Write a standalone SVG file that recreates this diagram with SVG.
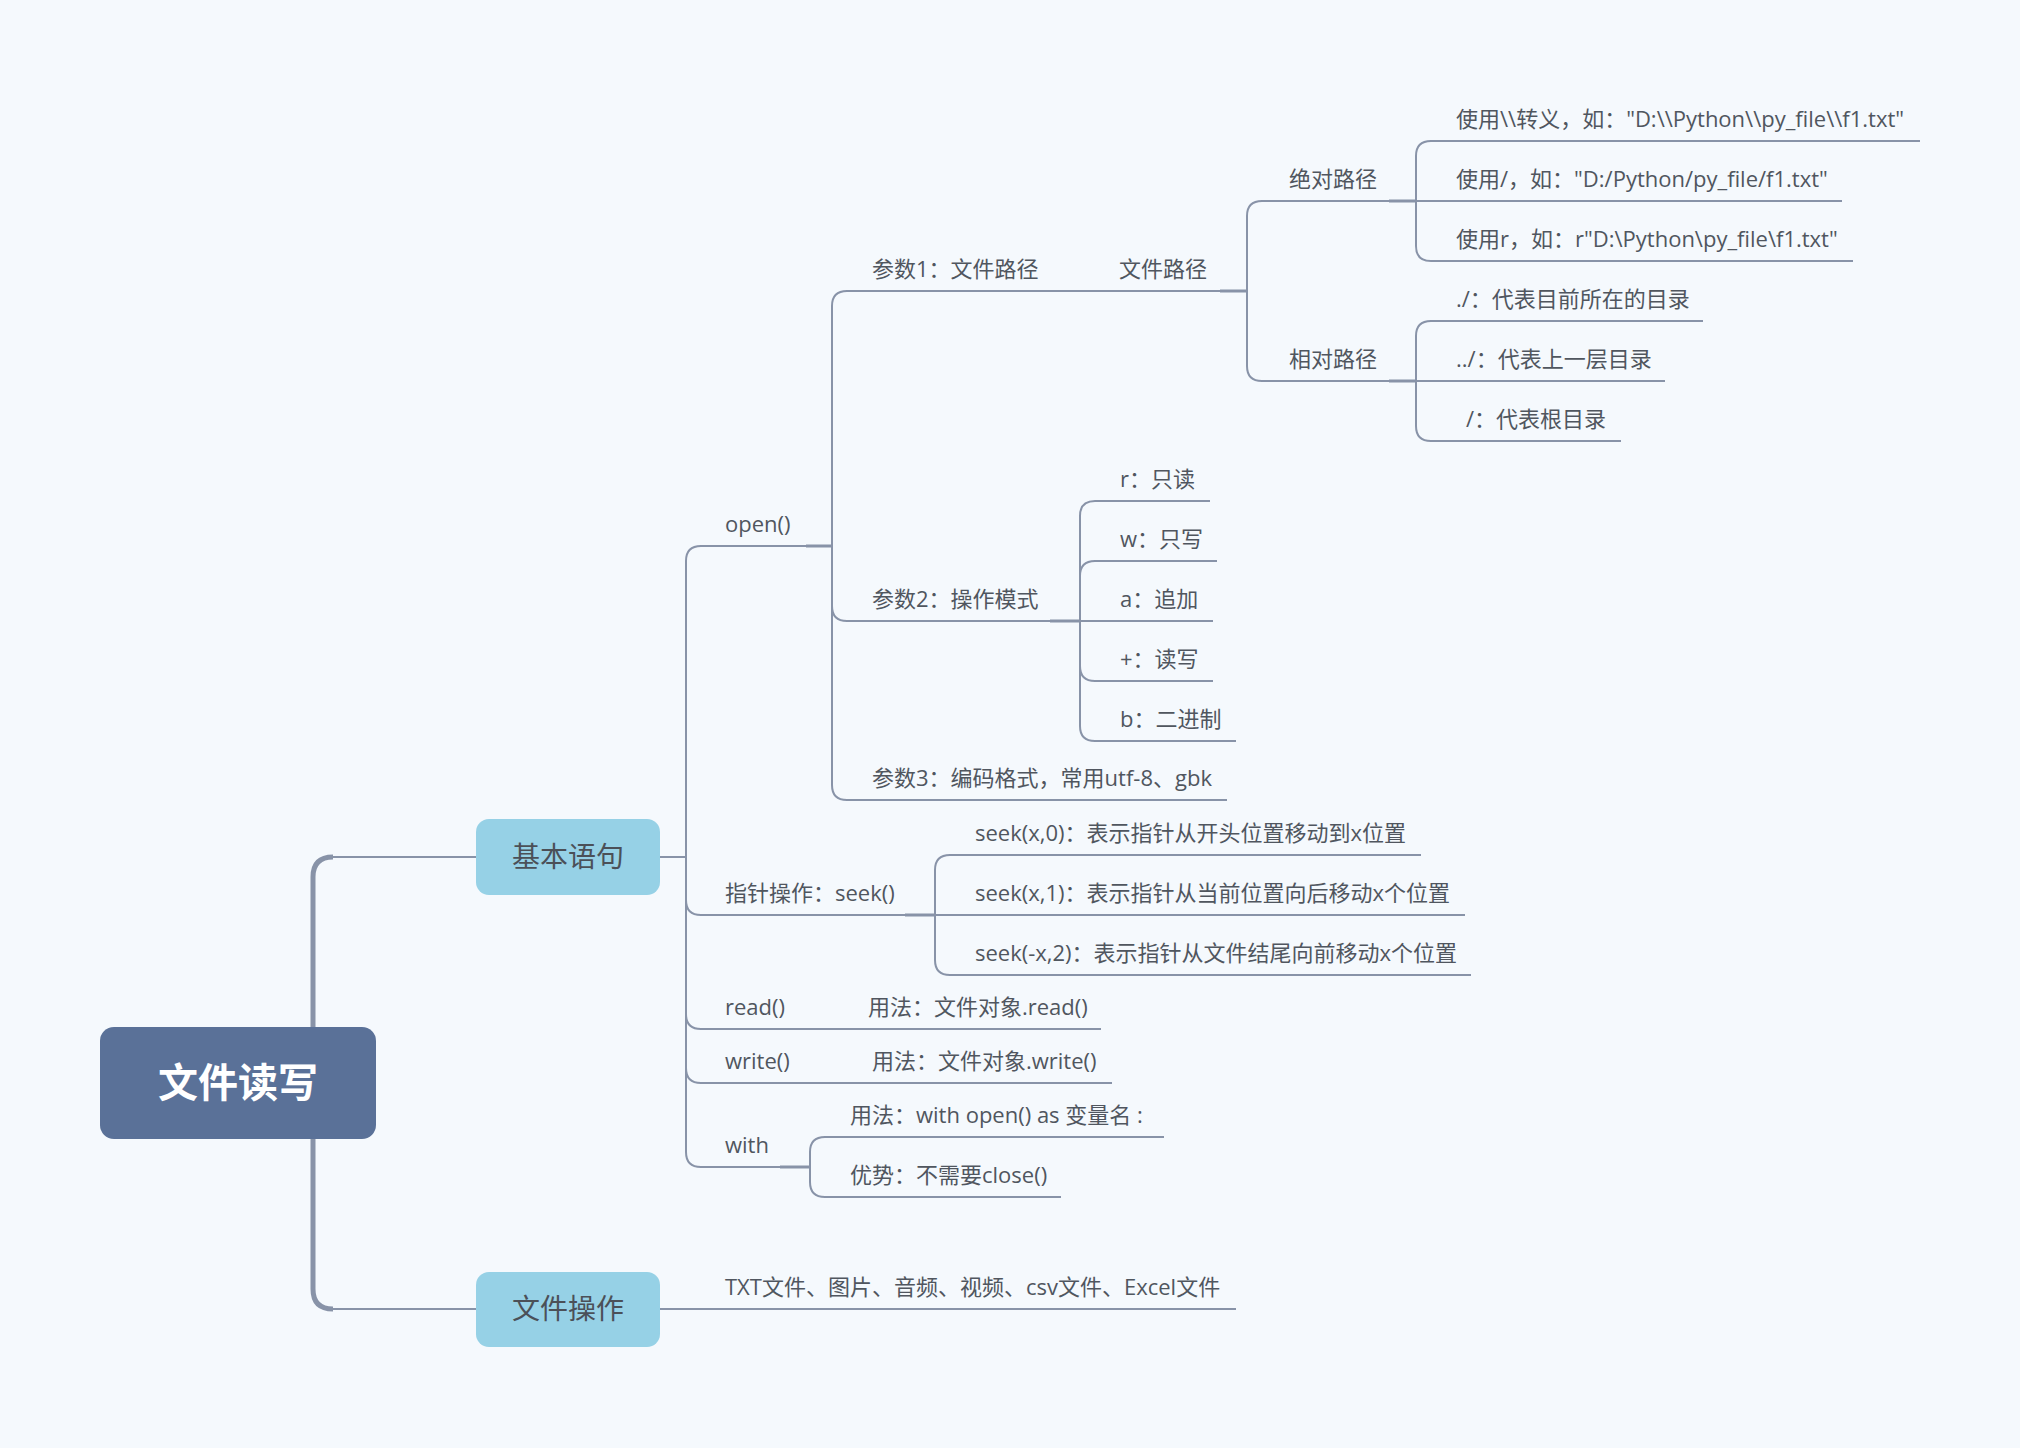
<svg xmlns="http://www.w3.org/2000/svg" width="2020" height="1448" viewBox="0 0 2020 1448">
<style>
.t{font-family:"Open Sans","Noto Sans CJK SC",sans-serif;font-size:22px;fill:#50565f}
.m{font-family:"Open Sans","Noto Sans CJK SC",sans-serif;font-size:28px;fill:#4b5058;text-anchor:middle}
.r{font-family:"Noto Sans CJK SC",sans-serif;font-size:40px;font-weight:bold;fill:#ffffff;text-anchor:middle}
.c{fill:none;stroke:#8893a8;stroke-width:2;stroke-linecap:butt}
.k{fill:none;stroke:#8893a8;stroke-width:3}
.tr{fill:none;stroke:#8893a8;stroke-width:5}
.b1{fill:#96d1e6}
</style>
<rect x="0" y="0" width="2020" height="1448" fill="#f5f9fd"/>
<g id="connectors">
<path class="tr" d="M313,1027 V877 Q313,857 333,857"/>
<path class="c" d="M332,857 H476" stroke-width="2.5"/>
<path class="tr" d="M313,1139 V1289 Q313,1309 333,1309"/>
<path class="c" d="M332,1309 H476" stroke-width="2.5"/>
<path class="c" d="M660,857 H686"/>
<path class="c" d="M686,857 V561 Q686,546 701,546 H832"/>
<path class="c" d="M686,857 V900 Q686,915 701,915 H935"/>
<path class="c" d="M686,857 V1014 Q686,1029 701,1029 H1101"/>
<path class="c" d="M686,857 V1068 Q686,1083 701,1083 H1112"/>
<path class="c" d="M686,857 V1152 Q686,1167 701,1167 H810"/>
<path class="c" d="M832,546 V306 Q832,291 847,291 H1247"/>
<path class="c" d="M832,546 V606 Q832,621 847,621 H1080"/>
<path class="c" d="M832,546 V785 Q832,800 847,800 H1227"/>
<path class="c" d="M1247,291 V216 Q1247,201 1262,201 H1416"/>
<path class="c" d="M1247,291 V366 Q1247,381 1262,381 H1416"/>
<path class="c" d="M1416,201 V156 Q1416,141 1431,141 H1920"/>
<path class="c" d="M1416,201 H1842"/>
<path class="c" d="M1416,201 V246 Q1416,261 1431,261 H1853"/>
<path class="c" d="M1416,381 V336 Q1416,321 1431,321 H1703"/>
<path class="c" d="M1416,381 H1665"/>
<path class="c" d="M1416,381 V426 Q1416,441 1431,441 H1621"/>
<path class="c" d="M1080,621 V516 Q1080,501 1095,501 H1210"/>
<path class="c" d="M1080,621 V576 Q1080,561 1095,561 H1217"/>
<path class="c" d="M1080,621 H1213"/>
<path class="c" d="M1080,621 V666 Q1080,681 1095,681 H1213"/>
<path class="c" d="M1080,621 V726 Q1080,741 1095,741 H1236"/>
<path class="c" d="M935,915 V870 Q935,855 950,855 H1421"/>
<path class="c" d="M935,915 H1465"/>
<path class="c" d="M935,915 V960 Q935,975 950,975 H1471"/>
<path class="c" d="M810,1167 V1152 Q810,1137 825,1137 H1164"/>
<path class="c" d="M810,1167 V1182 Q810,1197 825,1197 H1061"/>
<path class="c" d="M660,1309 H1236"/>
<path class="k" d="M806,546 H832 M1050,621 H1080 M1389,201 H1416 M1389,381 H1416 M1220,291 H1247 M905,915 H935 M780,1167 H810"/>
</g>
<g id="root"><rect x="100" y="1027" width="276" height="112" rx="14" fill="#5a7198"/><text class="r" x="238" y="1097">文件读写</text></g>
<g id="basic"><rect class="b1" x="476" y="819" width="184" height="76" rx="13"/><text class="m" x="568" y="867">基本语句</text></g>
<g id="fileops"><rect class="b1" x="476" y="1272" width="184" height="75" rx="13"/><text class="m" x="568" y="1319">文件操作</text></g>
<g id="open"><text class="t" x="725" y="532">open()</text></g>
<g id="seek"><text class="t" x="725" y="901">指针操作：seek()</text></g>
<g id="read"><text class="t" x="725" y="1015">read()</text></g>
<g id="write"><text class="t" x="725" y="1069">write()</text></g>
<g id="with"><text class="t" x="725" y="1153">with</text></g>
<g id="p1"><text class="t" x="872" y="277">参数1：文件路径</text></g>
<g id="path"><text class="t" x="1119" y="277">文件路径</text></g>
<g id="p2"><text class="t" x="872" y="607">参数2：操作模式</text></g>
<g id="p3"><text class="t" x="872" y="786">参数3：编码格式，常用utf-8、gbk</text></g>
<g id="abs"><text class="t" x="1289" y="187">绝对路径</text></g>
<g id="rel"><text class="t" x="1289" y="367">相对路径</text></g>
<g id="abs1"><text class="t" x="1456" y="127">使用\\转义，如："D:\\Python\\py_file\\f1.txt"</text></g>
<g id="abs2"><text class="t" x="1456" y="187">使用/，如："D:/Python/py_file/f1.txt"</text></g>
<g id="abs3"><text class="t" x="1456" y="247">使用r，如：r"D:\Python\py_file\f1.txt"</text></g>
<g id="rel1"><text class="t" x="1456" y="307">./：代表目前所在的目录</text></g>
<g id="rel2"><text class="t" x="1456" y="367">../：代表上一层目录</text></g>
<g id="rel3"><text class="t" x="1466" y="427">/：代表根目录</text></g>
<g id="mr"><text class="t" x="1120" y="487">r：只读</text></g>
<g id="mw"><text class="t" x="1120" y="547">w：只写</text></g>
<g id="ma"><text class="t" x="1120" y="607">a：追加</text></g>
<g id="mp"><text class="t" x="1120" y="667">+：读写</text></g>
<g id="mb"><text class="t" x="1120" y="727">b：二进制</text></g>
<g id="s0"><text class="t" x="975" y="841">seek(x,0)：表示指针从开头位置移动到x位置</text></g>
<g id="s1"><text class="t" x="975" y="901">seek(x,1)：表示指针从当前位置向后移动x个位置</text></g>
<g id="s2"><text class="t" x="975" y="961">seek(-x,2)：表示指针从文件结尾向前移动x个位置</text></g>
<g id="readu"><text class="t" x="868" y="1015">用法：文件对象.read()</text></g>
<g id="writeu"><text class="t" x="872" y="1069">用法：文件对象.write()</text></g>
<g id="withu"><text class="t" x="850" y="1123">用法：with open() as 变量名 :</text></g>
<g id="withadv"><text class="t" x="850" y="1183">优势：不需要close()</text></g>
<g id="types"><text class="t" x="725" y="1295">TXT文件、图片、音频、视频、csv文件、Excel文件</text></g>
</svg>
